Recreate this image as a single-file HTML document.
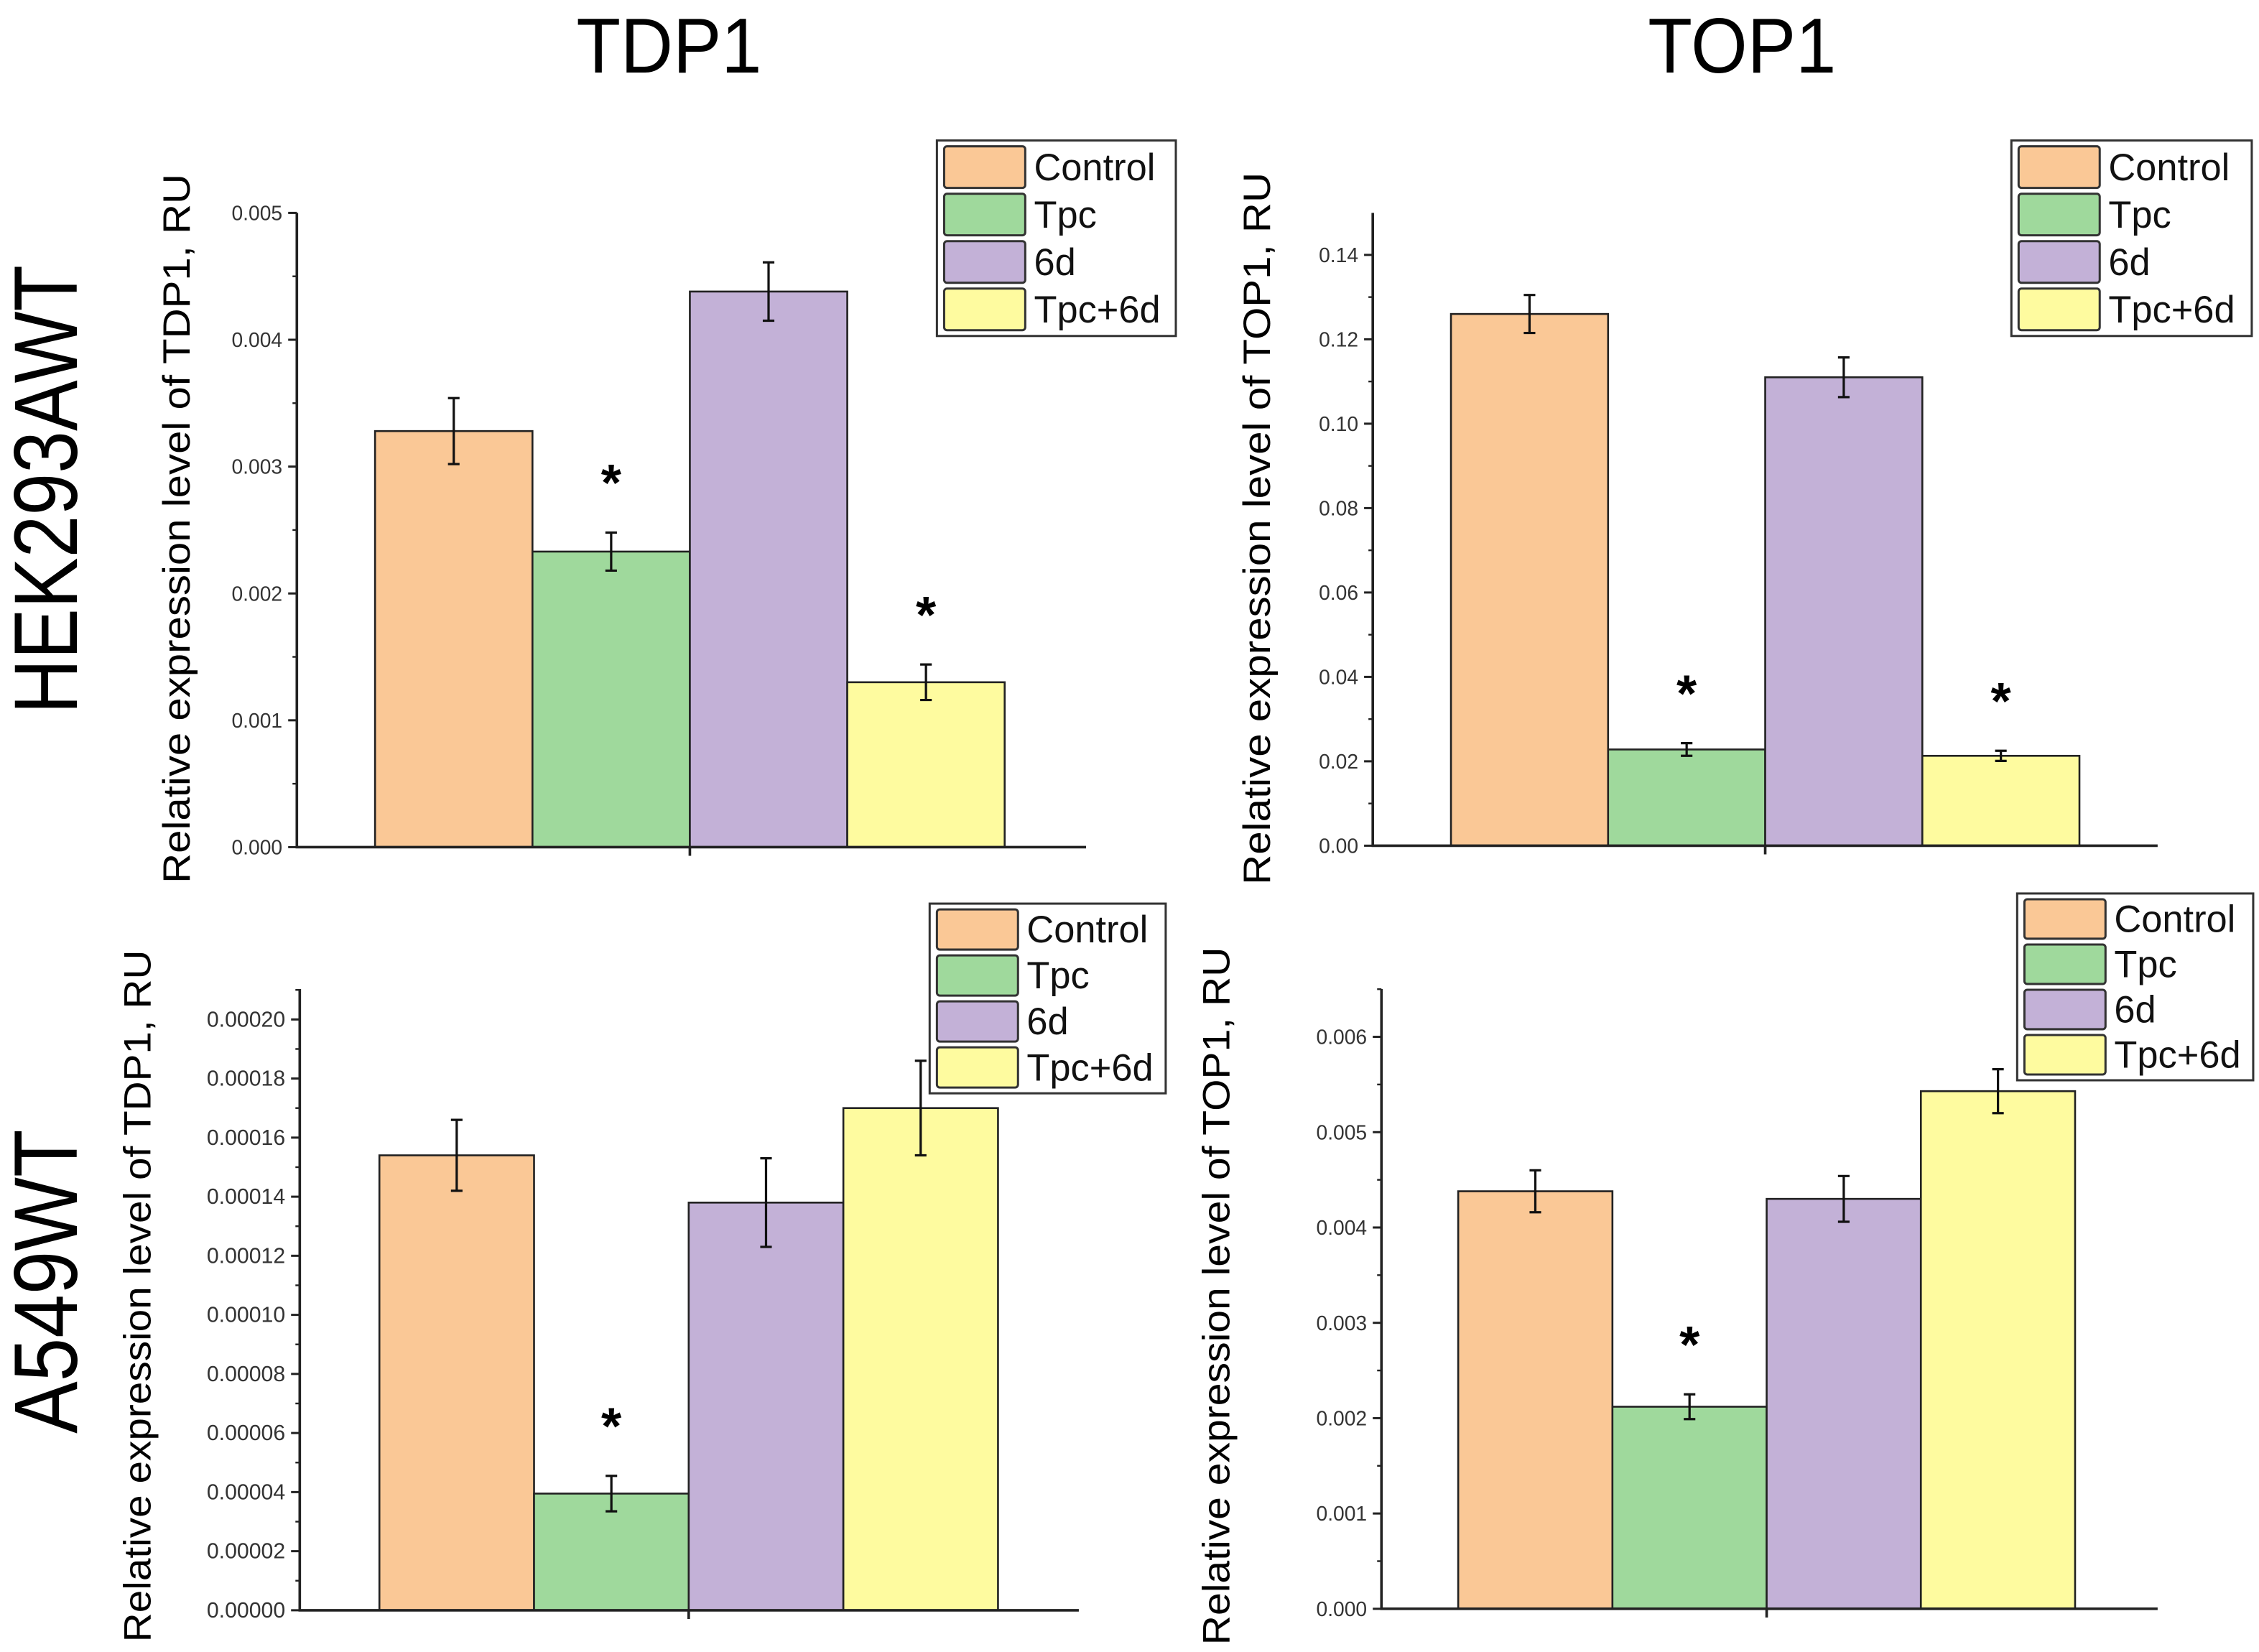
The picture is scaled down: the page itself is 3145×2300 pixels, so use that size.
<!DOCTYPE html>
<html><head><meta charset="utf-8"><style>
html,body{margin:0;padding:0;background:#fff;width:3145px;height:2300px;overflow:hidden}
svg{display:block}
</style></head><body>
<svg id="fig" width="3145" height="2300" viewBox="0 0 1560 1140.8" xmlns="http://www.w3.org/2000/svg" font-family="'Liberation Sans', sans-serif">
<text x="462" y="50" font-size="54" text-anchor="middle" textLength="128" lengthAdjust="spacingAndGlyphs">TDP1</text>
<text x="1203" y="50" font-size="54" text-anchor="middle" textLength="130" lengthAdjust="spacingAndGlyphs">TOP1</text>
<text transform="translate(53,338) rotate(-90)" font-size="62" text-anchor="middle" textLength="310" lengthAdjust="spacingAndGlyphs">HEK293AWT</text>
<text transform="translate(53,885) rotate(-90)" font-size="62" text-anchor="middle" textLength="210" lengthAdjust="spacingAndGlyphs">A549WT</text>
<g id="panels"></g>
</svg>
<script>
const categories = ["Control","Tpc","6d","Tpc+6d"];
const colors = ["#fac896","#9fd99c","#c3b1d7","#fefb9f"];
const tdpHekValues = [0.00328, 0.00233, 0.00438, 0.00130];
const tdpHekErrors = [0.00026, 0.00015, 0.00023, 0.00014];
const tdpHekTicks = ["0.000","0.001","0.002","0.003","0.004","0.005"];
const topHekValues = [0.126, 0.0228, 0.111, 0.0213];
const topHekErrors = [0.0045, 0.0015, 0.0047, 0.0012];
const topHekTicks = ["0.00","0.02","0.04","0.06","0.08","0.10","0.12","0.14"];
const tdpA549Values = [0.000154, 0.0000395, 0.000138, 0.000170];
const tdpA549Errors = [0.000012, 0.000006, 0.000015, 0.000016];
const tdpA549Ticks = ["0.00000","0.00002","0.00004","0.00006","0.00008","0.00010","0.00012","0.00014","0.00016","0.00018","0.00020"];
const topA549Values = [0.00438, 0.00212, 0.00430, 0.00543];
const topA549Errors = [0.00022, 0.00013, 0.00024, 0.00023];
const topA549Ticks = ["0.000","0.001","0.002","0.003","0.004","0.005","0.006"];
const tdpHekStars = [1,3];
const topHekStars = [1,3];
const tdpA549Stars = [1];
const topA549Stars = [1];

const NS="http://www.w3.org/2000/svg";
const root=document.getElementById('panels');
function mk(tag,attrs,parent){const e=document.createElementNS(NS,tag);for(const k in attrs)e.setAttribute(k,attrs[k]);(parent||root).appendChild(e);return e;}

function panel(cfg){
  const g=mk('g',{});
  
  
  const step=parseFloat(cfg.ticks[1]);
  const yMax=parseFloat(cfg.ticks[cfg.ticks.length-1]);
  const y=v=>cfg.y0-(v/yMax)*(cfg.y0-cfg.yTop);
  const x=i=>cfg.xb0+i*cfg.bw;
  cfg.values.forEach((v,i)=>{
    const r=mk('rect',{x:x(i),y:y(v),width:cfg.bw,height:cfg.y0-y(v),fill:colors[i],stroke:'#222','stroke-width':1.3},g);
    
    
    const cx=x(i)+cfg.bw/2, e=cfg.errors[i];
    const eb=mk('path',{d:`M${cx},${y(v+e)}V${y(v-e)}M${cx-4},${y(v+e)}H${cx+4}M${cx-4},${y(v-e)}H${cx+4}`,stroke:'#111','stroke-width':1.6,fill:'none'},g);
    
    
  });
  cfg.stars.forEach(i=>{
    const cx=x(i)+cfg.bw/2;
    const t=mk('text',{x:cx,y:y(cfg.values[i]+cfg.errors[i])-cfg.starGap,'font-size':36,'font-weight':'bold','text-anchor':'middle'},g);
    t.textContent='*';
    
    
  });
  const ax=mk('path',{d:`M${cfg.ax},${cfg.axTop}V${cfg.y0}H${cfg.axEnd}M${cfg.xb0+2*cfg.bw},${cfg.y0}v6`,stroke:'#222','stroke-width':1.8,fill:'none'},g);
  
  
  cfg.ticks.forEach((lab,k)=>{
    const v=k*step, ty=y(v);
    mk('line',{x1:cfg.ax-6,x2:cfg.ax,y1:ty,y2:ty,stroke:'#222','stroke-width':1.5},g);
    const mv=v+step/2;
    if(y(mv)>cfg.axTop) mk('line',{x1:cfg.ax-3,x2:cfg.ax,y1:y(mv),y2:y(mv),stroke:'#222','stroke-width':1.2},g);
    const t=mk('text',{x:cfg.ax-10,y:ty+5,'font-size':cfg.tickFont,'text-anchor':'end',fill:'#333'},g);
    t.textContent=lab;
    
    
  });
  const yl=mk('text',{transform:`translate(${cfg.ylx},${cfg.ylc}) rotate(-90)`,'font-size':26,'text-anchor':'middle',textLength:cfg.ylLen,lengthAdjust:'spacingAndGlyphs'},g);
  yl.textContent=cfg.ylabel;
  
  
  const L=cfg.legend, rh=(L.h-4)/4;
  const lb=mk('rect',{x:L.x,y:L.y,width:L.w,height:L.h,fill:'#fff',stroke:'#333','stroke-width':1.5},g);
  
  
  categories.forEach((c,i)=>{
    const sy=L.y+2+i*rh;
    mk('rect',{x:L.x+5,y:sy+2,width:56,height:rh-4,rx:2,fill:colors[i],stroke:'#333','stroke-width':1.5},g);
    const t=mk('text',{x:L.x+67,y:sy+rh/2+9,'font-size':26,fill:'#111'},g);
    t.textContent=c;
    
    
  });
}

panel({name:'panel-tdp1-hek',values:tdpHekValues,errors:tdpHekErrors,ticks:tdpHekTicks,stars:tdpHekStars,
  y0:585,yTop:147,axTop:147,ax:205,axEnd:750,xb0:259,bw:108.7,starGap:22,tickFont:14,
  ylabel:'Relative expression level of TDP1, RU',ylx:131,ylc:365,ylLen:490,
  legend:{x:647,y:97,w:165,h:135}});
panel({name:'panel-top1-hek',values:topHekValues,errors:topHekErrors,ticks:topHekTicks,stars:topHekStars,
  y0:584,yTop:176,axTop:147,ax:948,axEnd:1490,xb0:1002,bw:108.5,starGap:22,tickFont:14,
  ylabel:'Relative expression level of TOP1, RU',ylx:877,ylc:365,ylLen:492,
  legend:{x:1389,y:97,w:166,h:135}});
panel({name:'panel-tdp1-a549',values:tdpA549Values,errors:tdpA549Errors,ticks:tdpA549Ticks,stars:tdpA549Stars,
  y0:1112,yTop:704,axTop:683,ax:207,axEnd:745,xb0:262,bw:106.8,starGap:22,tickFont:15,
  ylabel:'Relative expression level of TDP1, RU',ylx:104,ylc:895,ylLen:478,
  legend:{x:642,y:624,w:163,h:131}});
panel({name:'panel-top1-a549',values:topA549Values,errors:topA549Errors,ticks:topA549Ticks,stars:topA549Stars,
  y0:1111,yTop:716,axTop:683,ax:954,axEnd:1490,xb0:1007,bw:106.5,starGap:22,tickFont:14,
  ylabel:'Relative expression level of TOP1, RU',ylx:849,ylc:895,ylLen:482,
  legend:{x:1393,y:617,w:163,h:129}});
</script>
</body></html>
